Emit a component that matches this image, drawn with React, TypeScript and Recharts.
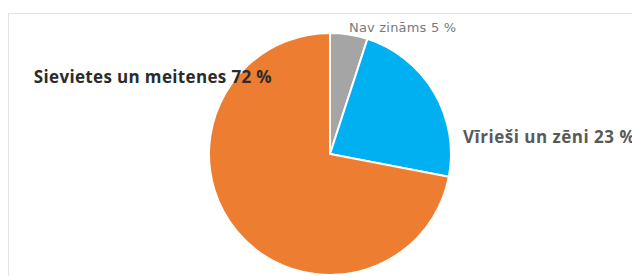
import React from "react";
import { PieChart, Pie, Cell } from "recharts";

const categories = ["Nav zināms", "Vīrieši un zēni", "Sievietes un meitenes"];
const values = [5, 23, 72];
const colors = ["#a5a5a5", "#00b0f0", "#ed7d31"];

const data = categories.map((name, i) => ({ name, value: values[i] }));

const renderLabel = (props: any) => {
  const { cx, cy, outerRadius, index, name, value } = props;
  const text = `${name} ${value} %`;
  if (index === 0) {
    return (
      <text x={cx + 19} y={cy - outerRadius - 1} fill="#7a7a7a" fontSize={13}
        fontFamily="DejaVu Sans, sans-serif" textAnchor="start" letterSpacing={0.2}>
        {text}
      </text>
    );
  }
  if (index === 1) {
    return (
      <text x={cx + outerRadius + 12} y={cy - 11} fill="#595959" fontSize={17}
        fontWeight="bold" fontFamily="Open Sans, sans-serif" textAnchor="start" letterSpacing={0.5}>
        {text}
      </text>
    );
  }
  return (
    <text x={cx - 58} y={cy - 71} fill="#2b2b2b" fontSize={17}
      fontWeight="bold" fontFamily="Open Sans, sans-serif" textAnchor="end" letterSpacing={0.35}>
      {text}
    </text>
  );
};

export default function App() {
  return (
    <div style={{ position: "fixed", left: 0, top: 0, width: 632, height: 276, overflow: "hidden", background: "#fff" }}>
      <div style={{ position: "absolute", left: 8, top: 13, width: 700, height: 320, border: "1px solid #e3e3e3", boxSizing: "border-box" }} />
      <div style={{ position: "absolute", left: 0, top: 0 }}>
        <PieChart width={632} height={276} margin={{ top: 0, right: 0, bottom: 0, left: 0 }} style={{ overflow: "visible" }}>
          <Pie
            data={data}
            dataKey="value"
            nameKey="name"
            cx={330}
            cy={154}
            outerRadius={121}
            startAngle={90}
            endAngle={-270}
            stroke="#ffffff"
            strokeWidth={2}
            label={renderLabel}
            labelLine={false}
            isAnimationActive={false}
          >
            {data.map((d, i) => (
              <Cell key={d.name} fill={colors[i]} />
            ))}
          </Pie>
        </PieChart>
      </div>
    </div>
  );
}
